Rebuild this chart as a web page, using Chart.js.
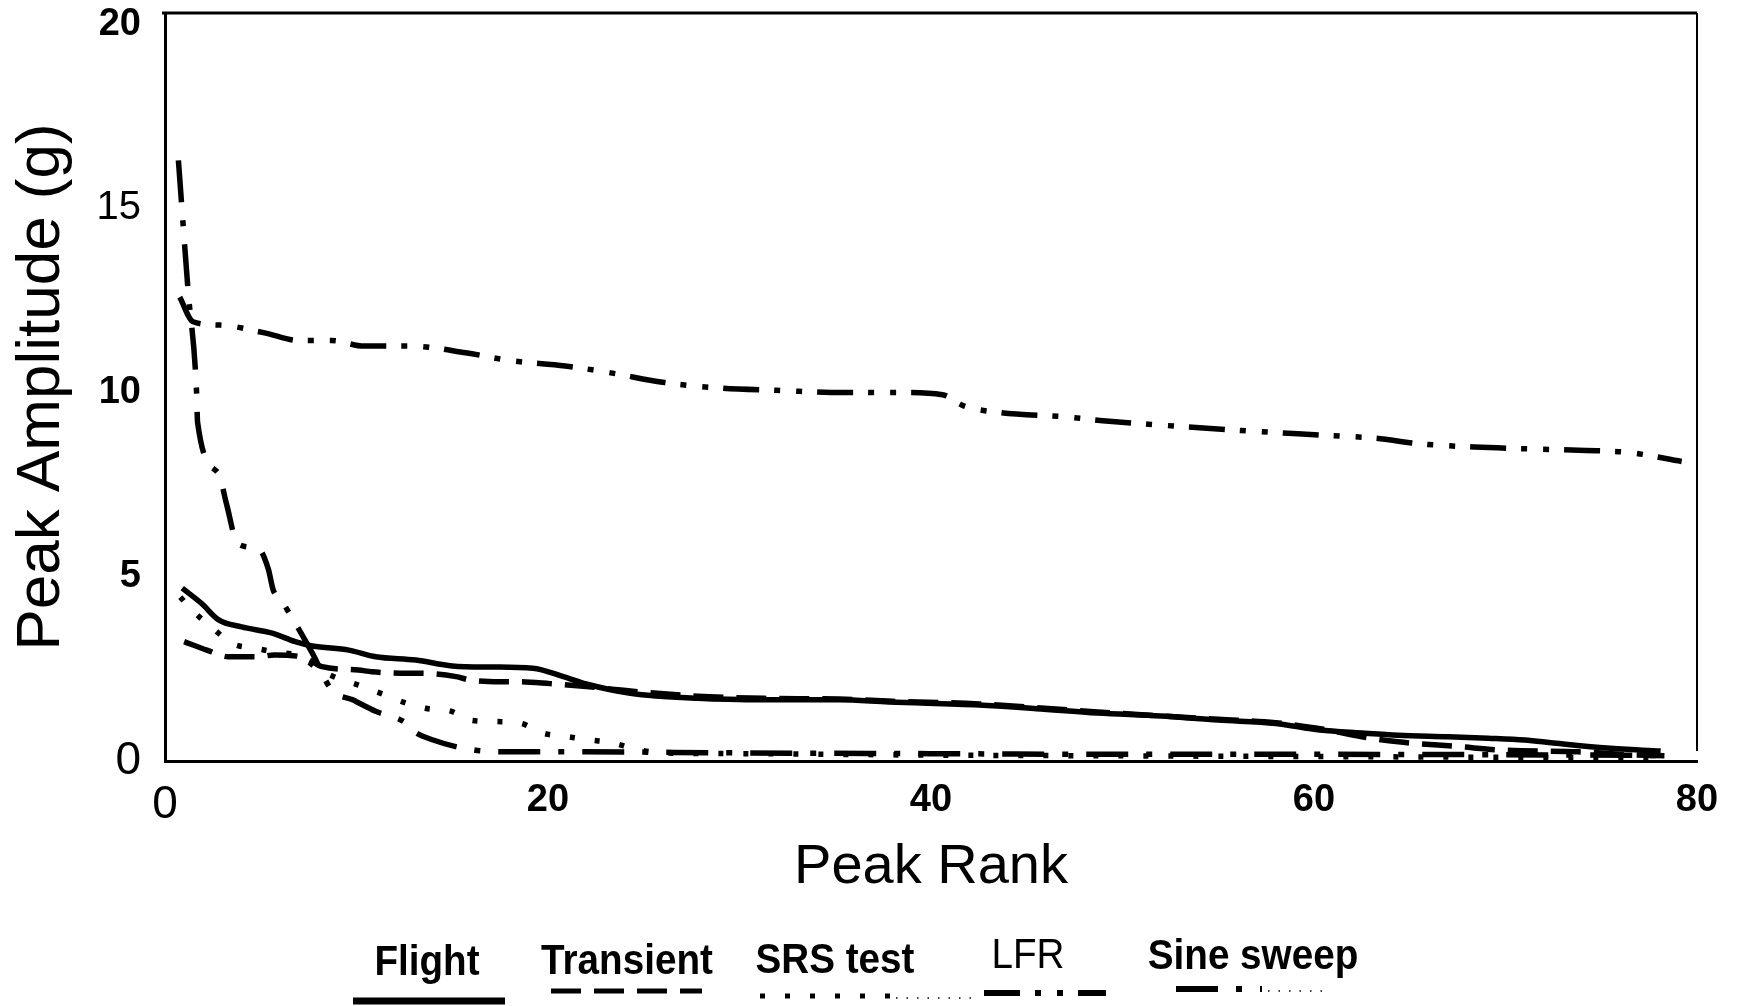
<!DOCTYPE html>
<html>
<head>
<meta charset="utf-8">
<script src="https://cdn.jsdelivr.net/npm/chart.js@4.4.1/dist/chart.umd.min.js"></script>
<style>
  html, body { margin: 0; padding: 0; background: #fff; }
  #wrap { width: 1739px; height: 1006px; }
</style>
</head>
<body>
<div id="wrap"><canvas id="chart"></canvas></div>
<script>
// ========== DATA ==========
const xTicks = [0, 20, 40, 60, 80];
const yTicks = [0, 5, 10, 15, 20];
const seriesNames = ["Flight", "Transient", "SRS test", "LFR", "Sine sweep"];

const flightRank = [0.9, 1.9, 2.8, 4.0, 5.6, 6.8, 7.7, 9.6, 11.0, 13.1, 15.0, 17.0, 19.2, 20.8, 22.0, 24.3, 27.8, 31.3, 35.2, 37.8, 42.5, 45.5, 48.7, 52.0, 55.0, 58.0, 60.3, 62.5, 64.4, 67.0, 69.1, 71.0, 72.5, 75.3, 78.1];
const flightPeak = [4.69, 4.28, 3.83, 3.64, 3.47, 3.24, 3.12, 3.01, 2.83, 2.74, 2.58, 2.55, 2.52, 2.29, 2.09, 1.84, 1.70, 1.66, 1.66, 1.60, 1.52, 1.42, 1.30, 1.22, 1.11, 1.02, 0.84, 0.76, 0.70, 0.66, 0.62, 0.57, 0.49, 0.35, 0.27];

const transientRank = [1.0, 2.4, 3.3, 4.9, 5.7, 7.3, 8.2, 10.1, 10.8, 12.7, 13.3, 15.2, 15.9, 17.5, 18.4, 20.1, 22.0, 24.3, 27.8, 31.3, 35.2, 38.0, 42.5, 48.7, 55.0, 58.0, 60.5, 62.5, 64.4, 67.6, 69.7, 73.8, 76.9, 78.3];
const transientPeak = [3.24, 2.97, 2.83, 2.83, 2.88, 2.80, 2.56, 2.47, 2.42, 2.38, 2.38, 2.29, 2.20, 2.15, 2.15, 2.10, 2.02, 1.90, 1.76, 1.70, 1.68, 1.62, 1.55, 1.33, 1.13, 1.04, 0.86, 0.66, 0.52, 0.39, 0.30, 0.25, 0.16, 0.14];

const srsRank = [0.8, 1.5, 2.5, 3.5, 4.7, 5.8, 7.0, 8.0, 9.0, 10.1, 11.2, 12.6, 13.6, 15.0, 15.9, 17.3, 18.6, 19.7, 21.0, 22.2, 23.4, 24.5, 26.0, 30.0, 40.0, 50.0, 60.0, 70.0, 78.0];
const srsPeak = [4.45, 4.05, 3.60, 3.19, 3.06, 2.95, 2.85, 2.50, 2.25, 2.06, 1.85, 1.57, 1.43, 1.34, 1.11, 1.07, 1.02, 0.76, 0.66, 0.57, 0.49, 0.33, 0.22, 0.20, 0.16, 0.14, 0.12, 0.10, 0.08];

const lfrRank = [0.77, 1.47, 2.9, 5.2, 7.0, 8.7, 10.4, 12.8, 15.7, 18.0, 20.9, 23.2, 26.1, 29.0, 31.9, 35.4, 38.3, 40.6, 41.7, 43.5, 47.0, 49.3, 52.7, 56.2, 60.9, 63.2, 65.5, 68.4, 71.3, 74.2, 76.5, 79.2];
const lfrPeak = [12.59, 11.92, 11.83, 11.62, 11.41, 11.41, 11.26, 11.26, 11.08, 10.87, 10.72, 10.54, 10.27, 10.12, 10.06, 10.0, 10.0, 9.94, 9.64, 9.46, 9.34, 9.22, 9.09, 8.97, 8.83, 8.76, 8.61, 8.52, 8.47, 8.43, 8.37, 8.13];

const sineRank = [0.7, 1.2, 1.65, 1.7, 2.8, 3.2, 3.8, 4.9, 5.4, 5.65, 6.0, 6.6, 7.7, 8.7, 9.8, 11.0, 12.6, 12.9, 14.0, 16.1, 17.8, 21.3, 30.0, 40.0, 50.0, 60.0, 70.0, 78.0];
const sinePeak = [16.3, 12.8, 10.0, 9.2, 7.8, 7.0, 5.9, 5.75, 5.2, 4.64, 4.41, 3.92, 2.92, 1.93, 1.66, 1.35, 1.02, 0.84, 0.57, 0.30, 0.25, 0.25, 0.22, 0.20, 0.18, 0.18, 0.17, 0.15];

// ========== HELPERS ==========
function toPoints(ranks, peaks) {
  return ranks.map((r, i) => ({ x: r, y: peaks[i] }));
}

const FONT = "'Liberation Sans', Arial, sans-serif";

function lineSet(label, ranks, peaks, dash) {
  return {
    label,
    data: toPoints(ranks, peaks),
    borderColor: "#000",
    borderWidth: 5.5,
    borderDash: dash,
    borderCapStyle: "butt",
    pointRadius: 0,
    cubicInterpolationMode: "monotone",
    fill: false
  };
}

// top and right frame lines
const framePlugin = {
  id: "frame",
  afterDraw(chart) {
    const { ctx, chartArea: a } = chart;
    ctx.save();
    ctx.strokeStyle = "#000";
    ctx.lineWidth = 3;
    ctx.beginPath();
    ctx.moveTo(a.left - 3, a.top);
    ctx.lineTo(a.right, a.top);
    ctx.stroke();
    ctx.lineWidth = 2;
    ctx.beginPath();
    ctx.moveTo(a.right, a.top);
    ctx.lineTo(a.right, a.bottom - 10);
    ctx.stroke();
    ctx.restore();
  }
};

// legend: text above, line sample below
const legendSpots = [
  { tx: 427, ty: 963, x0: 353, x1: 505, y: 1001, w: 7, bold: true },
  { tx: 627, ty: 962, x0: 551, x1: 702, y: 991, w: 5, bold: true },
  { tx: 835, ty: 961, x0: 760, x1: 890, y: 996, w: 5, bold: true, tail: 976 },
  { tx: 1028, ty: 956, x0: 984, x1: 1106, y: 993, w: 6, bold: false },
  { tx: 1253, ty: 957, x0: 1176, x1: 1262, y: 989, w: 6, bold: true, tail: 1331 }
];

const legendPlugin = {
  id: "bottomLegend",
  afterDraw(chart) {
    const ctx = chart.ctx;
    chart.data.datasets.forEach((ds, i) => {
      const s = legendSpots[i];
      ctx.save();
      ctx.fillStyle = "#000";
      ctx.textAlign = "center";
      ctx.textBaseline = "middle";
      ctx.font = (s.bold ? "bold " : "") + "42px " + FONT;
      ctx.translate(s.tx, s.ty);
      ctx.scale(0.92, 1);
      ctx.fillText(ds.label, 0, 0);
      ctx.restore();

      ctx.save();
      ctx.strokeStyle = "#000";
      ctx.lineWidth = s.w;
      ctx.setLineDash(ds.borderDash || []);
      ctx.beginPath();
      ctx.moveTo(s.x0, s.y);
      ctx.lineTo(s.x1, s.y);
      ctx.stroke();
      if (s.tail) {
        ctx.lineWidth = 1.5;
        ctx.setLineDash([1.5, 9]);
        ctx.beginPath();
        ctx.moveTo(s.x1 + 6, s.y + 2);
        ctx.lineTo(s.tail, s.y + 2);
        ctx.stroke();
      }
      ctx.restore();
    });
  }
};

// some tick labels in the scan are plain, the rest bold
function yTickFont(c) {
  const v = c.tick ? c.tick.value : 0;
  if (v === 15) return { family: FONT, size: 40, weight: "normal" };
  if (v === 0) return { family: FONT, size: 46, weight: "normal" };
  return { family: FONT, size: 38, weight: "bold" };
}
function xTickFont(c) {
  const v = c.tick ? c.tick.value : 0;
  if (v === 0) return { family: FONT, size: 46, weight: "normal" };
  return { family: FONT, size: 38, weight: "bold" };
}

// ========== CHART ==========
new Chart(document.getElementById("chart"), {
  type: "line",
  data: {
    datasets: [
      lineSet(seriesNames[0], flightRank, flightPeak, []),
      lineSet(seriesNames[1], transientRank, transientPeak, [30, 13]),
      lineSet(seriesNames[2], srsRank, srsPeak, [5, 20]),
      lineSet(seriesNames[3], lfrRank, lfrPeak, [36, 15, 6, 16, 6, 15]),
      lineSet(seriesNames[4], sineRank, sinePeak, [42, 18, 6, 18])
    ]
  },
  options: {
    responsive: true,
    maintainAspectRatio: false,
    animation: false,
    layout: { padding: { left: 0, right: 42, top: 13, bottom: 105 } },
    plugins: {
      legend: { display: false },
      tooltip: { enabled: false }
    },
    scales: {
      x: {
        type: "linear",
        min: xTicks[0],
        max: xTicks[xTicks.length - 1],
        afterBuildTicks: s => { s.ticks = xTicks.map(v => ({ value: v })); },
        afterFit: s => { s.height = 140; s.paddingLeft = 0; s.paddingRight = 0; },
        grid: { display: false, drawTicks: false },
        border: { display: true, color: "#000", width: 3 },
        ticks: { color: "#000", padding: 17, maxRotation: 0, font: xTickFont },
        title: {
          display: true,
          text: "Peak Rank",
          color: "#000",
          font: { family: FONT, size: 56 },
          padding: { top: 0, bottom: 0 }
        }
      },
      y: {
        min: 0,
        max: 20.3,
        afterBuildTicks: s => { s.ticks = yTicks.map(v => ({ value: v })); },
        afterFit: s => { s.width = 165; s.paddingTop = 0; s.paddingBottom = 0; },
        grid: { display: false, drawTicks: false },
        border: { display: true, color: "#000", width: 3 },
        ticks: { color: "#000", padding: 24, font: yTickFont },
        title: {
          display: true,
          text: "Peak Amplitude (g)",
          color: "#000",
          font: { family: FONT, size: 62 },
          padding: { top: 5, bottom: 0 }
        }
      }
    }
  },
  plugins: [framePlugin, legendPlugin]
});
</script>
